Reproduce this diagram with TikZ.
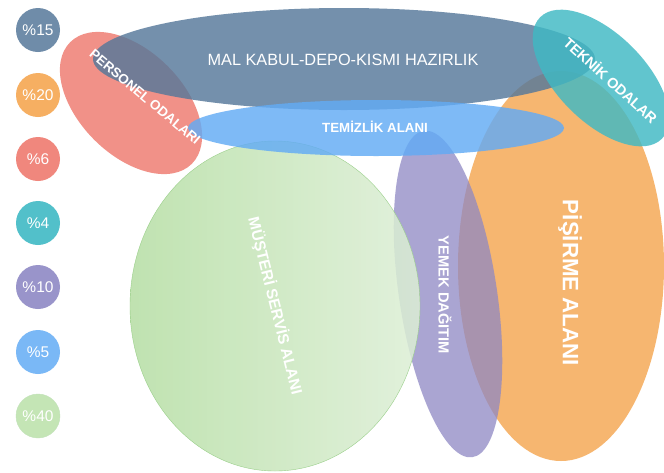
\documentclass[tikz,border=0pt]{standalone}
\usepackage{fontspec}
\setmainfont{Liberation Sans}
\usetikzlibrary{shapes.geometric}
\definecolor{cslate}{HTML}{56789A}
\definecolor{corange}{HTML}{F5A651}
\definecolor{csalmon}{HTML}{EE7A6E}
\definecolor{cteal}{HTML}{3FB9C4}
\definecolor{cpurple}{HTML}{8E88C4}
\definecolor{cblue}{HTML}{62ABF5}
\definecolor{cgreenA}{HTML}{B5DEA3}
\definecolor{cgreenB}{HTML}{DDEFD6}
\definecolor{cgreenE}{HTML}{9ACF8A}
\tikzset{
  legend/.style={circle, minimum size=44pt, inner sep=0pt, text=white,
    font=\fontsize{15.5}{15.5}\selectfont},
  zone/.style={ellipse, inner sep=0pt, fill opacity=0.82, draw=none},
  zonetext/.style={text=white, font=\bfseries\fontsize{#1}{#1}\selectfont, inner sep=0pt},
  zonetext/.default=13
}
\begin{document}
\begin{tikzpicture}[x=1pt, y=-1pt]
\useasboundingbox[fill=white] (0,0) rectangle (664,472);

% legend of shares
\node[legend, fill=cslate!85!white]  (l15) at (38,30)  {\%15};
\node[legend, fill=corange!90!white] (l20) at (38,95)  {\%20};
\node[legend, fill=csalmon!90!white] (l6)  at (38,159) {\%6};
\node[legend, fill=cteal!90!white]   (l4)  at (38,223) {\%4};
\node[legend, fill=cpurple!90!white] (l10) at (38,287) {\%10};
\node[legend, fill=cblue!85!white]   (l5)  at (38,352) {\%5};
\node[legend, fill=cgreenA!80!white, draw=cgreenE!60!white] (l40) at (38,416) {\%40};

% zones
\node[zone, fill=corange, minimum width=206pt, minimum height=390pt] (pisirme) at (561,266) {};
\node[zone, fill=cpurple, fill opacity=0.75, minimum width=98pt, minimum height=330pt, rotate=8.5] (yemek) at (448,294) {};
\node[zone, minimum width=290pt, minimum height=330pt, left color=cgreenA, right color=cgreenB,
      draw=cgreenE, fill opacity=0.85] (musteri) at (275,306) {};
\node[zone, fill=csalmon, minimum width=172pt, minimum height=104pt, rotate=-45] (personel) at (131,103) {};
\node[zone, fill=cslate, minimum width=502pt, minimum height=102pt] (malkabul) at (344,59) {};
\node[zone, fill=cteal, minimum width=172pt, minimum height=88pt, rotate=-45] (teknik) at (601,78) {};
\node[zone, fill=cblue, minimum width=376pt, minimum height=56pt] (temizlik) at (376,128) {};

% zone labels
\node[text=white, inner sep=0pt, font=\fontsize{16.3}{16.3}\selectfont] (tmalkabul) at (343,60) {MAL KABUL-DEPO-KISMI HAZIRLIK};
\node[zonetext=13.5, rotate=-40] (tpersonel) at (145,97) {PERSONEL ODALARI};
\node[zonetext=14.5, rotate=-42] (tteknik) at (611,80) {TEKNİK ODALAR};
\node[zonetext=13.3] (ttemizlik) at (375,127) {TEMİZLİK ALANI};
\node[zonetext=15.5, rotate=-76] (tmusteri) at (275,306) {MÜŞTERİ SERVİS ALANI};
\node[zonetext=14.7, rotate=-90] (tyemek) at (445,295) {YEMEK DAĞITIM};
\node[zonetext=22.3, rotate=-90] (tpisirme) at (570,283) {PİŞİRME ALANI};
\end{tikzpicture}
\end{document}
